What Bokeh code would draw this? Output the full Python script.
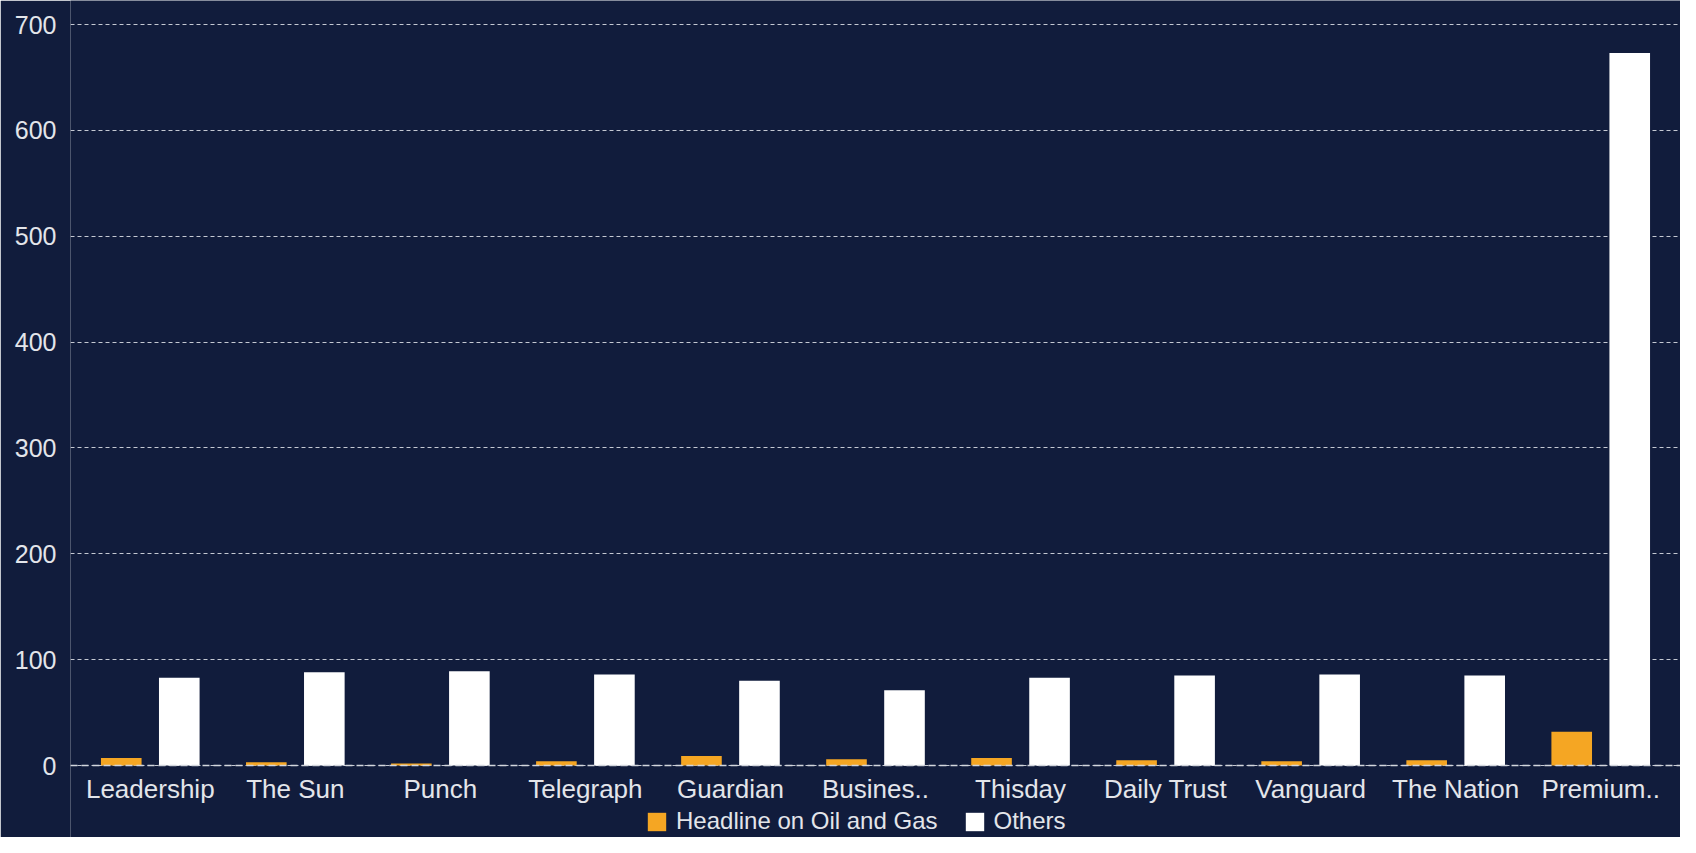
from bokeh.plotting import figure
from bokeh.models import (ColumnDataSource, FactorRange, Range1d, Legend, LegendItem,
                          Span, FixedTicker)
from bokeh.transform import dodge
from bokeh.embed import file_html
from bokeh.resources import INLINE

categories = ["Leadership", "The Sun", "Punch", "Telegraph", "Guardian", "Busines..",
              "Thisday", "Daily Trust", "Vanguard", "The Nation", "Premium.."]
oil_gas = [7, 3, 2, 4, 9, 6, 7, 5, 4, 5, 32]
others = [83, 88, 89, 86, 80, 71, 83, 85, 86, 85, 673]
y_ticks = [0, 100, 200, 300, 400, 500, 600, 700]

BG = "#111c3c"
ORANGE = "#f5a623"
TEXT = "#e3e5ea"
FONT = "Liberation Sans"

source = ColumnDataSource(dict(cat=categories, oil=oil_gas, others=others))

p = figure(
    x_range=FactorRange(factors=categories, range_padding=0.05, range_padding_units="absolute"),
    y_range=Range1d(-68.0, 722.7),
    width=1680, height=837,
    output_backend="svg", toolbar_location=None,
    background_fill_color=BG, border_fill_color=BG,
    min_border_left=70, min_border_right=0, min_border_top=0, min_border_bottom=0,
)
p.outline_line_color = None

r1 = p.vbar(x=dodge("cat", -0.2, range=p.x_range), top="oil", width=0.28,
            source=source, fill_color=ORANGE, line_color=None)
r2 = p.vbar(x=dodge("cat", 0.2, range=p.x_range), top="others", width=0.28,
            source=source, fill_color="white", line_color=None)

p.xgrid.grid_line_color = None
p.ygrid.grid_line_color = "#c5c9d3"
p.ygrid.grid_line_dash = "4 3"
p.ygrid.grid_line_width = 1
p.yaxis.ticker = FixedTicker(ticks=y_ticks)

zero = Span(location=0, dimension="width", line_color="#d3d6dd",
            line_dash="7 4", line_width=1.5, level="overlay")
p.add_layout(zero)

for ax in (p.xaxis, p.yaxis):
    ax.axis_line_color = None
    ax.major_tick_line_color = None
    ax.minor_tick_line_color = None
    ax.major_tick_out = 0
    ax.major_tick_in = 0
    ax.major_label_text_color = TEXT
    ax.major_label_text_font = FONT

p.xaxis.fixed_location = 0
p.yaxis.major_label_text_font_size = "25px"
p.xaxis.major_label_text_font_size = "26px"
p.yaxis.major_label_standoff = 14
p.xaxis.major_label_standoff = 8

legend = Legend(
    items=[LegendItem(label="Headline on Oil and Gas", renderers=[r1]),
           LegendItem(label="Others", renderers=[r2])],
    orientation="horizontal", location=(575, 2),
    background_fill_alpha=0, border_line_color=None,
    label_text_color=TEXT, label_text_font=FONT, label_text_font_size="24px",
    glyph_width=23, glyph_height=23, label_height=23, label_standoff=8,
    spacing=25, padding=2, margin=0,
)
p.add_layout(legend)

open("out.html", "w").write(file_html(p, INLINE))
